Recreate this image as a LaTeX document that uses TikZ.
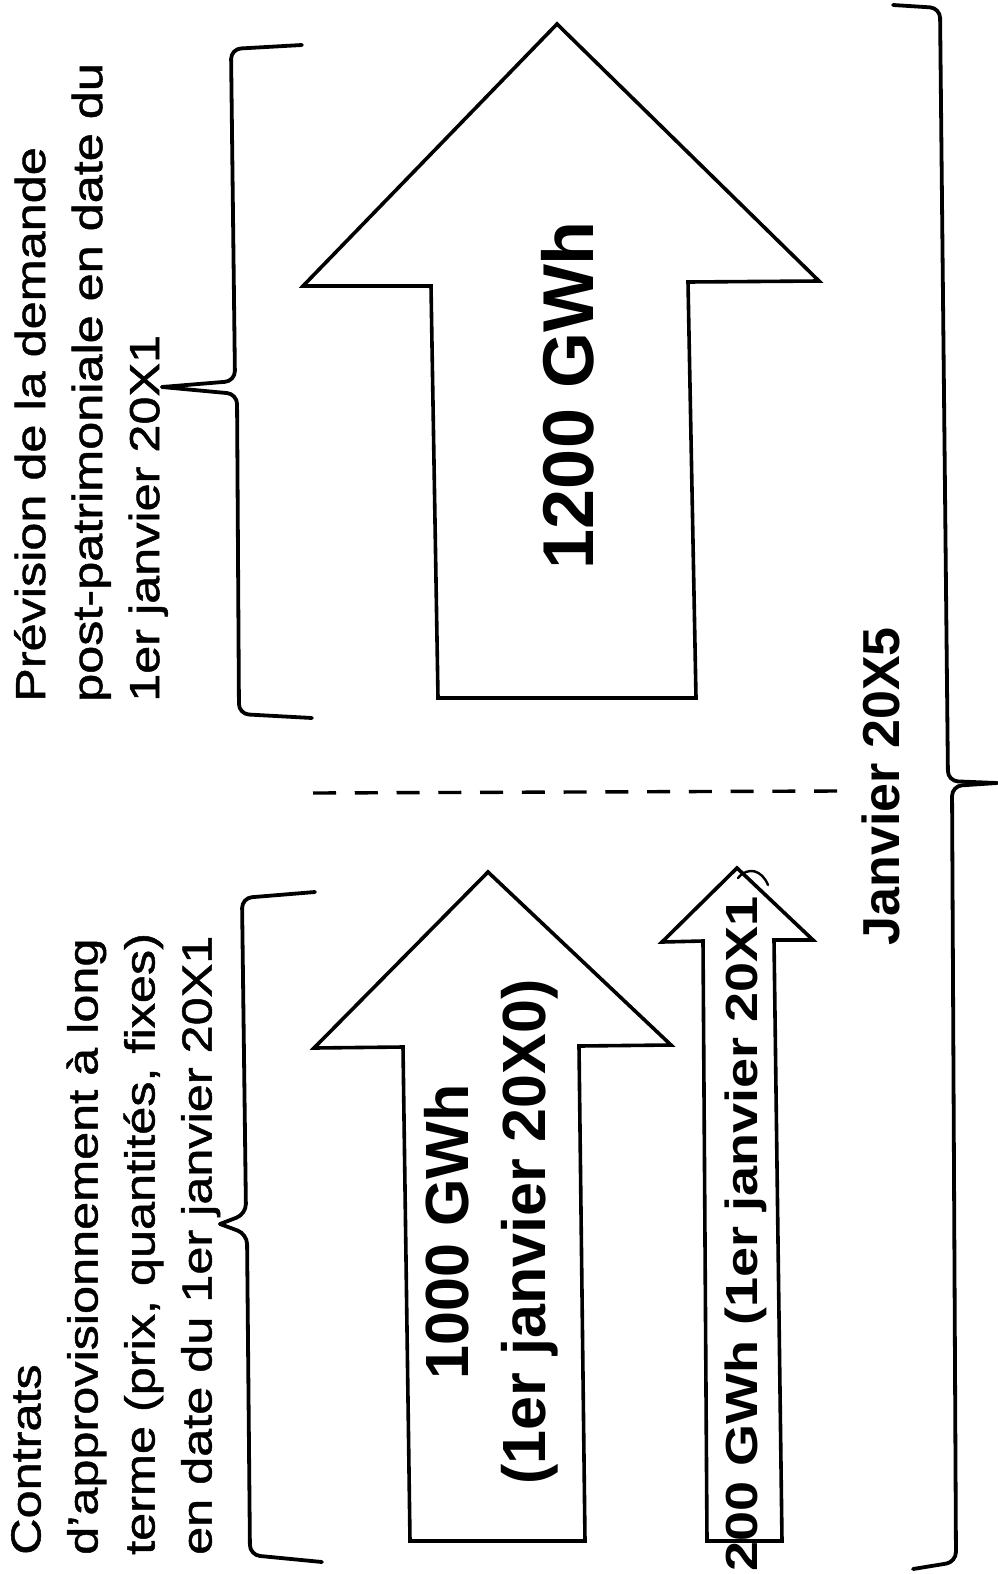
\documentclass[tikz,border=0pt]{standalone}
\usepackage{fontspec}
\setmainfont{Liberation Sans}
\newfontfamily\widefont[FakeStretch=1.2]{Liberation Sans}
\newfontfamily\sidefont[FakeStretch=1.2,FakeBold=1.2]{Liberation Sans}
\tikzset{
	side_text/.style = {
		inner sep=0pt,
		rotate=90,
		align=left,
		anchor=north west,
		font=\sidefont\fontsize{42}{57}\selectfont
	},
	gwh_text/.style = {
		inner sep=0pt,
		rotate=90,
		anchor=base
	},
	block_arrow/.style = {
		draw=black,
		line width=3.6pt,
		line join=miter
	},
	brace_line/.style = {
		draw=black,
		line width=3.8pt,
		rounded corners=10pt,
		line cap=round
	},
	split_line/.style = {
		draw=black,
		line width=3.4pt,
		dash pattern=on 23pt off 18.75pt
	},
}

\begin{document}
\begin{tikzpicture}[x=1pt,y=-1pt]
\useasboundingbox (0,0) rectangle (997,1574);
% texts on the left
\node [side_text] (demand_label) at (14,702) {Prévision de la demande\\post-patrimoniale en date du\\1er janvier 20X1};
\node [side_text] (contract_label) at (11,1555) {Contrats\\d’approvisionnement à long\\terme (prix, quantités, fixes)\\en date du 1er janvier 20X1};
% braces
\coordinate (demand_tip) at (162,387);
\coordinate (contract_tip) at (220,1224);
\coordinate (total_tip) at (997,783);
\draw [brace_line] (demand_tip) -- (235,381) -- (231,49) -- (302,45);
\draw [brace_line] (demand_tip) -- (237,394) -- (239,714) -- (312,718);
\draw [brace_line] (contract_tip) -- (246,1214) -- (242,898) -- (315,892);
\draw [brace_line] (contract_tip) -- (247,1234) -- (250,1555) -- (322,1562);
\draw [brace_line] (total_tip) -- (948,781) -- (940,8) -- (893,5);
\draw [brace_line] (total_tip) -- (952,786) -- (956,1562) -- (913,1569);
% arrows
\draw [block_arrow] (431,286) -- (303,286) -- (557,24) -- (819,281) -- (688,282) -- (696,698) -- (438,698) -- cycle;
\draw [block_arrow] (403,1047) -- (314,1048) -- (488,872) -- (671,1045) -- (579,1046) -- (585,1541) -- (410,1541) -- cycle;
\draw [block_arrow] (703,941) -- (662,942) -- (737,868) -- (813,940) -- (774,940) -- (782,1541) -- (707,1541) -- cycle;
\draw [line width=2.4pt, line cap=round] (738,878) .. controls (748,866) and (762,870) .. (768,885);
% dashed split
\coordinate (split_a) at (313,793);
\coordinate (split_b) at (838,791);
\draw [split_line] (split_a) -- (split_b);
% values
\node [gwh_text, font=\bfseries\fontsize{72}{86}\selectfont] (gwh_1200) at (593,395) {1200 GWh};
\node [gwh_text, anchor=north, align=center, font=\bfseries\fontsize{61}{77}\selectfont] (gwh_1000) at (424,1232) {1000 GWh\\(1er janvier 20X0)};
\node [gwh_text, font=\widefont\bfseries\fontsize{45}{54}\selectfont] (gwh_200) at (757,1234) {200 GWh (1er janvier 20X1};
\node [gwh_text, font=\bfseries\fontsize{52}{62}\selectfont] (total_label) at (899,786) {Janvier 20X5};
\end{tikzpicture}
\end{document}
